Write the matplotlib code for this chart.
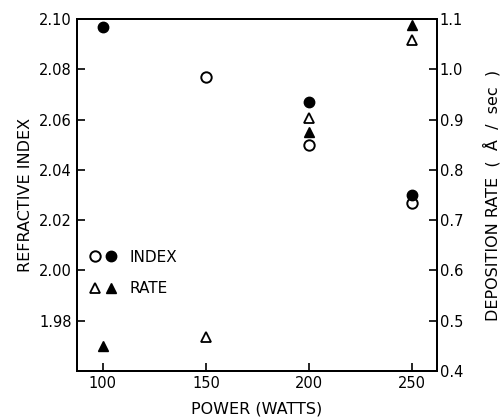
import matplotlib.pyplot as plt
from matplotlib.legend_handler import HandlerTuple

# data
power_index_open = [150, 200, 250]
index_open = [2.077, 2.050, 2.027]
power_index_filled = [100, 200, 250]
index_filled = [2.097, 2.067, 2.030]

power_rate_open = [150, 200, 250]
rate_open = [0.468, 0.903, 1.058]
power_rate_filled = [100, 200, 250]
rate_filled = [0.450, 0.875, 1.088]

index_ticks = [1.98, 2.00, 2.02, 2.04, 2.06, 2.08, 2.10]
rate_ticks = [0.4, 0.5, 0.6, 0.7, 0.8, 0.9, 1.0, 1.1]
power_ticks = [100, 150, 200, 250]

plt.rcParams['font.family'] = 'DejaVu Sans'
plt.rcParams['font.size'] = 10

fig = plt.figure(figsize=(5.03, 4.17), dpi=100)
ax = fig.add_axes([77/503, 1 - 371/417, 360/503, 352/417])
ax2 = ax.twinx()

ms = 7.5
io, = ax.plot(power_index_open, index_open, 'o', ms=ms, mfc='white', mec='black', mew=1.4, ls='none')
iff, = ax.plot(power_index_filled, index_filled, 'o', ms=ms, mfc='black', mec='black', ls='none')
ro, = ax2.plot(power_rate_open, rate_open, '^', ms=ms, mfc='white', mec='black', mew=1.3, ls='none')
rf, = ax2.plot(power_rate_filled, rate_filled, '^', ms=ms, mfc='black', mec='black', ls='none')

ax.set_xlim(87.5, 262)
ax.set_ylim(1.96, 2.10)
ax2.set_ylim(0.4, 1.1)

ax.set_xticks(power_ticks)
ax.set_yticks(index_ticks)
ax.set_yticklabels([f'{v:.2f}' for v in index_ticks])
ax2.set_yticks(rate_ticks)
ax2.set_yticklabels([f'{v:.1f}' for v in rate_ticks])

for a in (ax, ax2):
    a.tick_params(direction='in', length=6, width=1.2, labelsize=10.5)
    for s in a.spines.values():
        s.set_linewidth(1.4)
ax.tick_params(axis='y', pad=4)
ax2.tick_params(axis='y', pad=2)

ax.set_xlabel('POWER (WATTS)', fontsize=11.5, labelpad=8)
ax.set_ylabel('REFRACTIVE INDEX', fontsize=11.5, labelpad=4)
ax2.set_ylabel('DEPOSITION RATE  (  Å  /  sec  )', fontsize=11.5, labelpad=14)

ax2.legend([(io, iff), (ro, rf)], ['INDEX', 'RATE'],
           handler_map={tuple: HandlerTuple(ndivide=None, pad=0)},
           loc='upper left', bbox_to_anchor=(0.03, 0.345), frameon=False,
           borderpad=0, borderaxespad=0, handlelength=2.0, handletextpad=0.75,
           labelspacing=1.1, fontsize=11)

fig.savefig('out.png', dpi=100)
